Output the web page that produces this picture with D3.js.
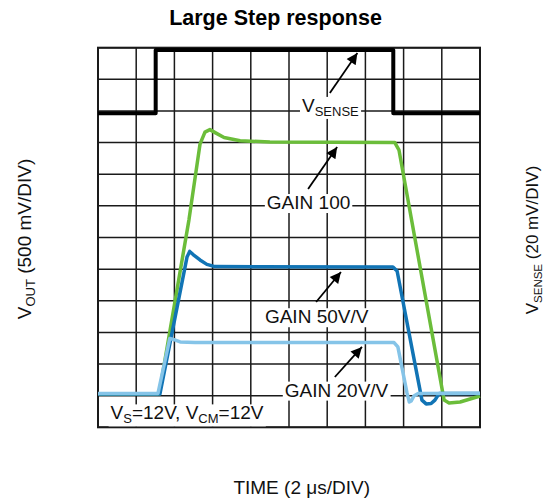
<!DOCTYPE html>
<html>
<head>
<meta charset="utf-8">
<script src="https://cdn.jsdelivr.net/npm/d3@7"></script>
<style>
  body { margin: 0; background: #fff; }
  svg { font-family: "Liberation Sans", Arial, sans-serif; }
</style>
</head>
<body>
<div id="chart"></div>
<script>
// values in scope divisions: [time div, vertical div]
const vsense = [[0, 9.93], [1.51, 9.93], [1.51, 11.93], [7.73, 11.93], [7.73, 9.93], [10, 9.93]];

const gain100 = [[0, 1.05], [1.60, 1.05], [2.38, 6.55], [2.67, 8.95], [2.80, 9.33], [2.93, 9.41],
    [3.09, 9.30], [3.30, 9.16], [3.72, 9.06], [4.50, 9.02], [7.77, 9.00], [7.88, 8.76],
    [9.06, 0.86], [9.19, 0.77], [9.48, 0.80], [10, 0.99]];

const gain50 = [[0, 1.05], [1.62, 1.05], [2.33, 5.38], [2.40, 5.56], [2.49, 5.46], [2.67, 5.29],
    [2.85, 5.15], [3.06, 5.08], [7.72, 5.07], [7.83, 4.94], [8.48, 0.86], [8.59, 0.74],
    [8.72, 0.75], [8.82, 0.86], [8.93, 1.07], [10, 1.07]];

const gain20 = [[0, 1.07], [1.57, 1.07], [1.88, 2.81], [1.99, 2.77], [2.15, 2.70], [2.54, 2.68],
    [7.75, 2.68], [7.85, 2.54], [8.09, 1.08], [8.15, 0.80], [8.20, 0.83], [8.27, 0.99],
    [8.38, 1.07], [10, 1.08]];

const xDivs = d3.range(0, 11);
const yDivs = d3.range(0, 13);

// labels: text parts ([string, isSub]), anchor point and arrow (tail -> tip) in divisions
const notes = [
    { parts: [['V', false], ['SENSE', true]], at: [5.34, 9.97], arrow: [[6.07, 10.57], [6.79, 11.83]] },
    { parts: [['GAIN 100', false]], at: [4.42, 6.90], arrow: [[5.50, 7.53], [6.26, 8.86]] },
    { parts: [['GAIN 50V/V', false]], at: [4.37, 3.29], arrow: [[5.71, 3.96], [6.36, 4.91]] },
    { parts: [['GAIN 20V/V', false]], at: [4.89, 0.97], arrow: [[6.20, 1.59], [6.91, 2.54]] },
    { parts: [['V', false], ['S', true], ['=12V, V', false], ['CM', true], ['=12V', false]], at: [0.33, 0.25] }
];

const width = 548, height = 502;
const plot = { left: 98, right: 480, top: 47.7, bottom: 427.3 };

const svg = d3.select('#chart').append('svg')
    .attr('width', width)
    .attr('height', height);

const x = d3.scaleLinear().domain([0, 10]).range([plot.left, plot.right]);
const y = d3.scaleLinear().domain([0, 12]).range([plot.bottom, plot.top]);

svg.append('defs').append('marker')
    .attr('id', 'head')
    .attr('viewBox', '0 0 10 10')
    .attr('refX', 10).attr('refY', 5)
    .attr('markerWidth', 15).attr('markerHeight', 11)
    .attr('markerUnits', 'userSpaceOnUse')
    .attr('orient', 'auto')
    .append('path').attr('d', 'M0,0L10,5L0,10z').attr('fill', '#000');

// grid
const grid = svg.append('g').attr('stroke', '#1a1a1a').attr('stroke-width', 1.5);
grid.selectAll('.vx').data(xDivs).join('line')
    .attr('x1', d => x(d)).attr('x2', d => x(d))
    .attr('y1', y(0)).attr('y2', y(12));
grid.selectAll('.hy').data(yDivs).join('line')
    .attr('x1', x(0)).attr('x2', x(10))
    .attr('y1', d => y(d)).attr('y2', d => y(d));
svg.append('rect')
    .attr('x', x(0)).attr('y', y(12))
    .attr('width', x(10) - x(0)).attr('height', y(0) - y(12))
    .attr('fill', 'none').attr('stroke', '#1a1a1a').attr('stroke-width', 2);

const line = d3.line().x(d => x(d[0])).y(d => y(d[1]));

const series = [
    { data: vsense, color: '#000', w: 4 },
    { data: gain100, color: '#6bbd3a', w: 3.5 },
    { data: gain50, color: '#1174b5', w: 3.5 },
    { data: gain20, color: '#85c4e8', w: 3.5 }
];

svg.append('g').selectAll('path').data(series).join('path')
    .attr('d', d => line(d.data))
    .attr('fill', 'none')
    .attr('stroke', d => d.color)
    .attr('stroke-width', d => d.w)
    .attr('stroke-linejoin', 'round');

// annotations
function richText(g, parts, size, subSize) {
    const t = g.append('text').attr('font-size', size).attr('fill', '#111');
    parts.forEach((p, i) => {
        const prevSub = i > 0 && parts[i - 1][1];
        const sp = t.append('tspan').text(p[0]);
        if (p[1]) sp.attr('font-size', subSize).attr('dy', prevSub ? 0 : 4);
        else if (prevSub) sp.attr('dy', -4);
    });
    return t;
}

notes.forEach(n => {
    const g = svg.append('g');
    const t = richText(g, n.parts, 19, 13)
        .attr('x', x(n.at[0])).attr('y', y(n.at[1]));
    const bb = t.node().getBBox();
    g.insert('rect', 'text')
        .attr('x', bb.x - 2).attr('y', bb.y + 2)
        .attr('width', bb.width + 4).attr('height', bb.height - 2)
        .attr('fill', '#fff');
    if (n.arrow) {
        svg.append('line')
            .attr('x1', x(n.arrow[0][0])).attr('y1', y(n.arrow[0][1]))
            .attr('x2', x(n.arrow[1][0])).attr('y2', y(n.arrow[1][1]))
            .attr('stroke', '#000').attr('stroke-width', 1.8)
            .attr('marker-end', 'url(#head)');
    }
});

// titles
svg.append('text')
    .attr('x', 275.5).attr('y', 25)
    .attr('text-anchor', 'middle')
    .attr('font-size', 21.5).attr('font-weight', 'bold')
    .text('Large Step response');

svg.append('text')
    .attr('x', 301.7).attr('y', 494)
    .attr('text-anchor', 'middle')
    .attr('font-size', 19).attr('fill', '#111')
    .text('TIME (2 μs/DIV)');

const leftLab = svg.append('g').attr('transform', 'translate(31,239) rotate(-90)');
richText(leftLab, [['V', false], ['OUT', true], [' (500 mV/DIV)', false]], 19, 13)
    .attr('text-anchor', 'middle');

const rightLab = svg.append('g').attr('transform', 'translate(538,240) rotate(-90)');
richText(rightLab, [['V', false], ['SENSE', true], [' (20 mV/DIV)', false]], 17, 11.5)
    .attr('text-anchor', 'middle');
</script>
</body>
</html>
